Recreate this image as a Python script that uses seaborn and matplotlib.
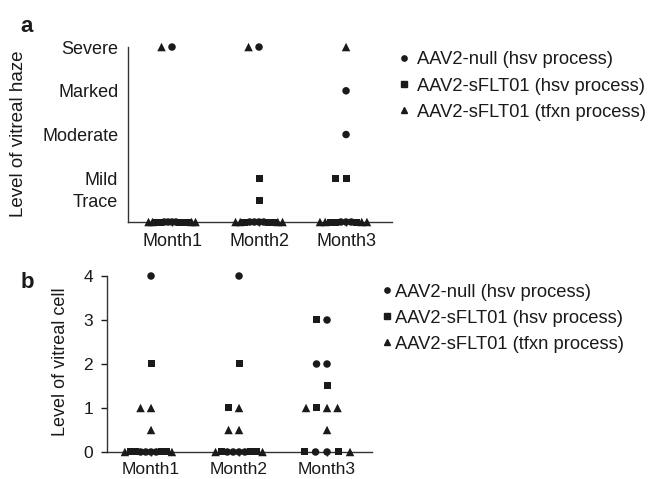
import numpy as np
import pandas as pd
import matplotlib
matplotlib.use("Agg")
import matplotlib.pyplot as plt
import seaborn as sns
from matplotlib.markers import MarkerStyle
from matplotlib.transforms import Affine2D
from matplotlib.lines import Line2D

months = ["Month1", "Month2", "Month3"]
groups = ["AAV2-null (hsv process)", "AAV2-sFLT01 (hsv process)", "AAV2-sFLT01 (tfxn process)"]
group_markers = ["o", "s", "^"]

# haze grades: 0.5 trace, 1 mild, 2 moderate, 3 marked, 4 severe
haze_ticks = [0.5, 1, 2, 3, 4]
haze_labels = ["Trace", "Mild", "Moderate", "Marked", "Severe"]
cell_ticks = [0, 1, 2, 3, 4]

# one list per month (5 eyes per group)
haze_null = [[4, 0, 0, 0, 0], [4, 0, 0, 0, 0], [3, 2, 0, 0, 0]]
haze_sflt_hsv = [[0, 0, 0, 0, 0], [1, 0.5, 0, 0, 0], [1, 1, 0, 0, 0]]
haze_sflt_tfxn = [[4, 0, 0, 0, 0], [4, 0, 0, 0, 0], [4, 0, 0, 0, 0]]

cell_null = [[4, 0, 0, 0, 0], [4, 0, 0, 0, 0], [3, 2, 2, 0, 0]]
cell_sflt_hsv = [[2, 0, 0, 0, 0], [2, 1, 0, 0, 0], [3, 1.5, 1, 0, 0]]
cell_sflt_tfxn = [[1, 1, 0.5, 0, 0], [1, 0.5, 0.5, 0, 0], [1, 1, 1, 0.5, 0]]

DPI = 100
FONT = "Liberation Sans"
INK = "#1a1a1a"


def long_table(series):
    rows = []
    for m_i, m in enumerate(months):
        for g, vals in zip(groups, series):
            for v in vals[m_i]:
                rows.append((m, g, v))
    return pd.DataFrame(rows, columns=["month", "group", "level"])


def marker_path(marker, scale):
    ms = MarkerStyle(marker)
    return ms.get_path().transformed(ms.get_transform() + Affine2D().scale(scale))


visible_px = {"o": 7.5, "s": 7.0, "^": 8.5}


def swarm(ax, df):
    # upper rows are spread loosely, the crowded zero row is squeezed
    for part, loose in ((df[df.level > 0], True), (df[df.level == 0], False)):
        n0 = len(ax.collections)
        sns.swarmplot(data=part, x="month", y="level", order=months, color=INK,
                      size=7, linewidth=0, clip_on=False, zorder=3, ax=ax)
        for coll, m in zip(ax.collections[n0:], months):
            sub = part[part.month == m]
            if sub.empty:
                continue
            n = len(sub)
            step = 10.5 if loose else min(11.5, 47.0 / max(n - 1, 1))
            diam = step / 1.05
            coll.set_sizes([(diam * 72 / DPI) ** 2])
            mk = [group_markers[groups.index(g)] for g in sub.group]
            coll.set_paths([marker_path(k, visible_px[k] / diam) for k in mk])
            coll.set_edgecolor("none")


def style_axes(ax, xlim):
    sns.despine(ax=ax)
    for s in ("left", "bottom"):
        ax.spines[s].set_color("#333333")
        ax.spines[s].set_linewidth(1.0)
    ax.set_xlim(*xlim)
    ax.set_ylim(0, 4)
    ax.set_xlabel("")


sns.set_style("ticks")
plt.rcParams["font.family"] = [FONT, "DejaVu Sans"]

fig = plt.figure(figsize=(6.49, 4.79), dpi=DPI)
ax_a = fig.add_axes([0.1972, 0.5365, 0.4068, 0.3653])
ax_b = fig.add_axes([0.1649, 0.0564, 0.4083, 0.3674])

# panel a
swarm(ax_a, long_table([haze_null, haze_sflt_hsv, haze_sflt_tfxn]))
style_axes(ax_a, (-0.506, 2.528))
ax_a.set_yticks(haze_ticks, haze_labels)
ax_a.tick_params(axis="y", length=0, pad=7, labelsize=13, colors=INK)
ax_a.tick_params(axis="x", length=3, width=1, pad=5, labelsize=13, colors=INK)
ax_a.set_ylabel("Level of vitreal haze", fontsize=13.5, color=INK)
ax_a.yaxis.set_label_coords(0.042, 0.720, transform=fig.transFigure)

# panel b
swarm(ax_b, long_table([cell_null, cell_sflt_hsv, cell_sflt_tfxn]))
style_axes(ax_b, (-0.5, 2.511))
ax_b.set_yticks(cell_ticks)
ax_b.tick_params(axis="y", length=4, width=1, pad=6, labelsize=12.5, colors=INK)
ax_b.tick_params(axis="x", length=3, width=1, pad=4, labelsize=12.5, colors=INK)
ax_b.set_ylabel("Level of vitreal cell", fontsize=13, color=INK)
ax_b.yaxis.set_label_coords(0.106, 0.244, transform=fig.transFigure)

handles = [Line2D([], [], ls="none", marker=m, color=INK, markersize=3.8) for m in group_markers]
fig.legend(handles, groups, loc="upper left", bbox_to_anchor=(398.5 / 649, 0.8926),
           frameon=False, fontsize=13.2, handlelength=0.6, handletextpad=0.41,
           labelspacing=0.5, borderpad=0, borderaxespad=0, labelcolor=INK)
fig.legend(handles, groups, loc="upper left", bbox_to_anchor=(381.5 / 649, 0.408),
           frameon=False, fontsize=13.2, handlelength=0.6, handletextpad=0.14,
           labelspacing=0.5, borderpad=0, borderaxespad=0, labelcolor=INK)

fig.text(0.032, 0.933, "a", fontsize=16, fontweight="bold", color=INK, va="baseline")
fig.text(0.031, 0.399, "b", fontsize=16, fontweight="bold", color=INK, va="baseline")

fig.savefig("out.png", dpi=DPI)
